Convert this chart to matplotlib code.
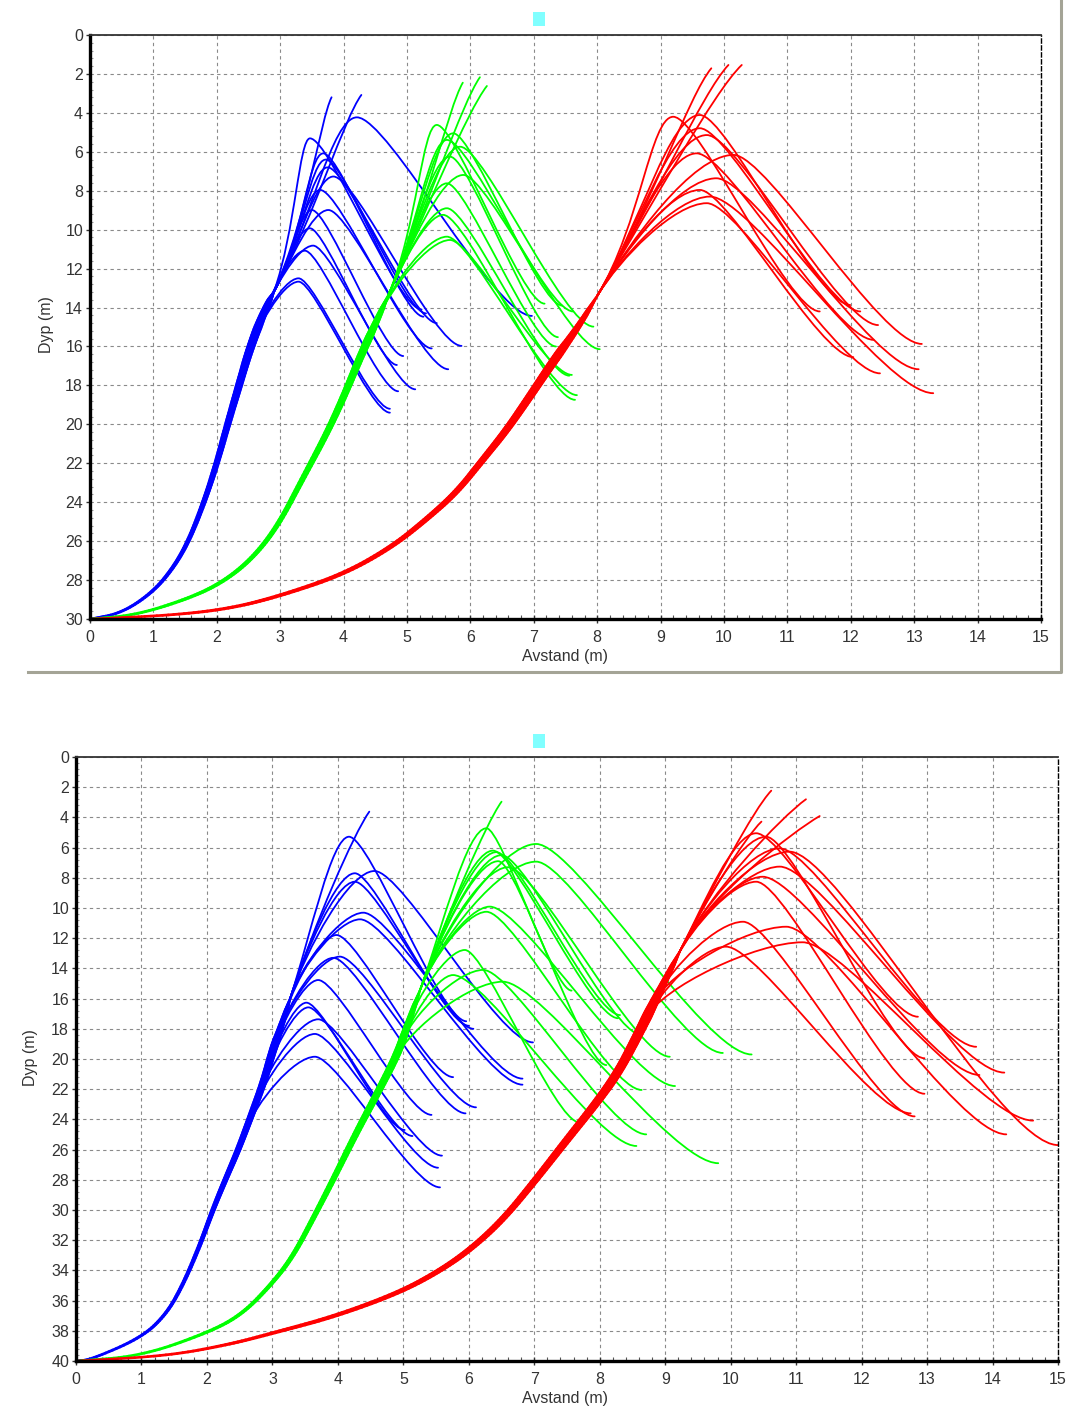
import numpy as np
import matplotlib
matplotlib.use('Agg')
import matplotlib.pyplot as plt
from matplotlib.path import Path
from matplotlib.patches import PathPatch, Rectangle
from matplotlib.collections import LineCollection
from matplotlib.lines import Line2D
from matplotlib.ticker import MultipleLocator

plt.rcParams['font.family'] = ['Liberation Sans', 'DejaVu Sans']

# ---- upper chart (depth 0-30 m) ----
top_blue_trunk = [(0, 30), (0.5, 29.7), (1.0, 28.6), (1.33, 27.3), (1.57, 25.9), (1.81, 23.9),
                  (2.0, 22.0), (2.17, 20.0), (2.35, 18.0), (2.53, 16.0), (2.77, 14.0), (2.9, 13.2)]
top_blue_tips = [(3.81, 3.2), (4.28, 3.08)]
top_blue_peaks = [(3.47, 5.31), (3.68, 6.08), (3.72, 6.4), (3.75, 6.8), (3.84, 7.27), (3.63, 7.96),
                  (3.50, 8.99), (3.76, 8.99), (3.47, 9.93), (3.52, 10.82), (3.39, 11.08),
                  (3.29, 12.5), (3.29, 12.67), (4.21, 4.23)]
top_blue_ends = [(5.23, 14.1), (5.26, 14.47), (5.3, 14.3), (5.47, 14.8), (5.86, 15.97), (5.39, 16.1),
                 (4.94, 16.49), (5.65, 17.17), (4.84, 16.95), (5.13, 18.2), (4.86, 18.3),
                 (4.73, 19.2), (4.73, 19.4), (6.97, 14.43)]

top_green_trunk = [(0, 30), (0.72, 29.8), (1.51, 29.0), (2.05, 28.2), (2.53, 27.0), (2.95, 25.3),
                   (3.37, 22.7), (3.73, 20.5), (4.0, 18.6), (4.28, 16.4), (4.52, 14.7), (4.7, 13.4)]
top_green_tips = [(5.88, 2.45), (6.15, 2.17), (6.26, 2.62)]
top_green_peaks = [(5.47, 4.62), (5.73, 5.05), (5.63, 5.39), (5.84, 5.74), (5.68, 6.25), (5.89, 7.19),
                   (5.63, 7.62), (5.63, 8.9), (5.57, 9.24), (5.63, 10.36), (5.68, 10.53)]
top_green_ends = [(7.17, 13.8), (7.45, 13.9), (7.62, 14.2), (7.94, 14.98), (7.38, 15.52), (8.04, 16.14),
                  (7.35, 16.0), (7.56, 17.5), (7.65, 18.74), (7.68, 18.5), (7.6, 17.46)]

top_red_trunk = [(0, 30), (1.33, 29.8), (2.23, 29.45), (3.01, 28.8), (4.0, 27.7), (4.76, 26.3),
                 (5.3, 24.9), (5.78, 23.5), (6.2, 21.8), (6.57, 20.3), (6.93, 18.6), (7.3, 16.8),
                 (7.7, 15.0), (8.0, 13.4)]
top_red_tips = [(9.8, 1.71), (10.07, 1.54), (10.28, 1.54)]
top_red_peaks = [(9.2, 4.2), (9.62, 4.11), (9.62, 4.79), (9.73, 5.14), (9.57, 6.08), (10.15, 6.16),
                 (9.88, 7.36), (9.62, 7.96), (9.78, 8.3), (9.73, 8.64)]
top_red_ends = [(11.51, 14.2), (11.99, 13.87), (12.15, 14.2), (12.43, 14.9), (12.36, 15.66),
                (13.12, 15.87), (13.07, 17.17), (12.04, 16.55), (13.3, 18.4), (12.46, 17.38)]

# ---- lower chart (depth 0-40 m) ----
bot_blue_trunk = [(0, 40), (0.23, 39.9), (1.0, 38.45), (1.38, 36.9), (1.64, 34.9), (1.90, 32.25),
                  (2.09, 30.0), (2.28, 28.0), (2.48, 26.0), (2.67, 23.8), (2.86, 21.6), (3.0, 19.5),
                  (3.15, 17.6), (3.27, 16.0)]
bot_blue_tips = [(4.48, 3.62)]
bot_blue_peaks = [(4.17, 5.28), (4.26, 7.70), (4.26, 8.26), (4.56, 7.55), (4.39, 10.31), (4.34, 10.75),
                  (3.98, 11.79), (4.03, 13.22), (3.93, 13.3), (3.70, 14.77), (3.52, 16.27),
                  (3.55, 16.58), (3.70, 17.37), (3.65, 18.34), (3.65, 19.85)]
bot_blue_ends = [(5.96, 17.5), (6.0, 17.8), (6.07, 18.0), (6.98, 18.9), (6.82, 21.3), (6.82, 21.7),
                 (5.76, 21.2), (6.11, 23.2), (5.95, 23.6), (5.43, 23.7), (5.02, 24.7), (5.14, 25.1),
                 (5.59, 26.4), (5.53, 27.2), (5.56, 28.5)]

bot_green_trunk = [(0, 40), (1.0, 39.67), (2.03, 38.1), (2.54, 36.9), (2.99, 34.9), (3.31, 33.1),
                   (3.63, 30.5), (3.95, 27.8), (4.28, 24.9), (4.60, 22.3), (4.92, 19.6), (5.1, 17.3),
                   (5.25, 15.5)]
bot_green_tips = [(6.50, 2.96)]
bot_green_peaks = [(6.27, 4.72), (6.37, 6.2), (6.42, 6.3), (6.50, 6.5), (6.45, 6.9), (6.6, 7.3),
                   (7.03, 5.76), (7.03, 6.93), (6.32, 9.91), (6.27, 10.25), (5.94, 12.78),
                   (5.76, 14.44), (6.22, 14.1), (6.52, 14.88)]
bot_green_ends = [(7.57, 15.47), (8.28, 17.3), (8.31, 17.09), (8.64, 18.41), (8.10, 20.4), (9.07, 19.85),
                  (10.32, 19.7), (9.88, 19.6), (9.15, 21.79), (8.64, 22.05), (7.69, 24.2),
                  (8.56, 25.76), (8.71, 24.99), (9.81, 26.9)]

bot_red_trunk = [(0, 40), (1.38, 39.67), (2.35, 38.9), (3.05, 38.1), (3.95, 37.05), (4.92, 35.5),
                 (5.53, 34.1), (6.03, 32.6), (6.53, 30.6), (7.04, 27.9), (7.49, 25.4), (7.95, 22.9),
                 (8.28, 20.9), (8.56, 18.6), (8.8, 16.5), (9.02, 14.6), (9.22, 12.9)]
bot_red_tips = [(10.62, 2.23), (11.15, 2.8), (11.36, 3.91), (10.47, 4.28)]
bot_red_peaks = [(10.39, 5.05), (10.54, 5.28), (10.75, 6.05), (10.90, 6.27), (10.75, 7.26),
                 (10.49, 7.93), (10.39, 8.26), (10.19, 10.91), (9.93, 12.56), (10.85, 11.24),
                 (11.10, 12.27)]
bot_red_ends = [(12.86, 17.2), (12.96, 19.95), (13.75, 19.19), (15.0, 25.7), (14.18, 20.9),
                (13.80, 21.06), (12.96, 22.3), (12.81, 23.8), (12.75, 23.6), (14.21, 24.99),
                (14.62, 24.08)]

BLUE, GREEN, RED = '#0000ff', '#00ff00', '#ff0000'
LW = 1.3


def smooth_trunk(points):
    # quadratic pieces through the midpoints, drawn by matplotlib's own Bezier code
    p = [np.array(q, dtype=float) for q in points]
    verts = [p[0], (p[0] + p[1]) / 2]
    codes = [Path.MOVETO, Path.LINETO]
    for i in range(1, len(p) - 1):
        verts += [p[i], (p[i] + p[i + 1]) / 2]
        codes += [Path.CURVE3, Path.CURVE3]
    verts.append(p[-1])
    codes.append(Path.LINETO)
    path = Path(verts, codes)
    t = np.linspace(0, 1, 14)
    pieces = [seg(t) for seg, _ in path.iter_bezier()]
    return np.vstack(pieces)


def draw_group(ax, trunk, tips, peaks, ends, color, rise, w_top):
    tx = np.array([p[0] for p in trunk])
    ty = np.array([p[1] for p in trunk])

    # the bundle of nearly identical rising paths, drawn as one widening stroke
    line = smooth_trunk(trunk)
    segs = np.stack([line[:-1], line[1:]], axis=1)
    s = np.linspace(0, 1, len(segs))
    widths = 1.4 + (w_top - 1.4) * np.minimum(s / 0.85, 1) ** 1.3
    taper = s > 0.85
    widths[taper] = w_top - (w_top - LW * 1.3) * (s[taper] - 0.85) / 0.15
    ax.add_collection(LineCollection(segs, colors=color, linewidths=widths, capstyle='round'))
    top = ty[-1]

    def branch(y_target):
        yb = max(top, y_target)
        xb = np.interp(yb, ty[::-1], tx[::-1])
        k = int(np.searchsorted(-ty, -yb)) - 1
        k = min(max(k, 0), len(ty) - 2)
        dxdy = (tx[k + 1] - tx[k]) / (ty[k] - ty[k + 1])
        return xb, yb, dxdy

    def rise_part(px, py):
        xb, yb, dxdy = branch(py + rise)
        h = yb - py
        c1x = min(xb + dxdy * 0.4 * h, xb + 0.6 * (px - xb))
        return (xb, yb), (c1x, yb - 0.4 * h)

    for (ex, ey) in tips:
        b, c1 = rise_part(ex, ey)
        c2 = (ex - 0.2 * (ex - b[0]), ey + 0.12 * (b[1] - ey))
        verts = [b, c1, c2, (ex, ey)]
        codes = [Path.MOVETO, Path.CURVE4, Path.CURVE4, Path.CURVE4]
        ax.add_patch(PathPatch(Path(verts, codes), fill=False, edgecolor=color,
                               lw=LW, capstyle='round'))

    for (px, py), (ex, ey) in zip(peaks, ends):
        b, c1 = rise_part(px, py)
        c2 = (px - 0.3 * (px - b[0]), py)
        dx = ex - px
        c3 = (px + 0.18 * dx, py)
        c4 = (ex - 0.22 * dx, ey)
        verts = [b, c1, c2, (px, py), c3, c4, (ex, ey)]
        codes = [Path.MOVETO] + [Path.CURVE4] * 6
        ax.add_patch(PathPatch(Path(verts, codes), fill=False, edgecolor=color,
                               lw=LW, capstyle='round', joinstyle='round'))


def style_axes(ax, ymax):
    ax.set_xlim(0, 15)
    ax.set_ylim(ymax, 0)
    ax.xaxis.set_major_locator(MultipleLocator(1))
    ax.xaxis.set_minor_locator(MultipleLocator(0.2))
    ax.yaxis.set_major_locator(MultipleLocator(2))
    ax.yaxis.set_minor_locator(MultipleLocator(0.4))
    ax.grid(True, which='major', linestyle=(0, (3, 3)), color='#8a8a8a', lw=0.8)
    ax.set_axisbelow(True)
    ax.tick_params(axis='x', which='major', direction='inout', length=6, width=1, color='#333333',
                   labelsize=11.5, labelcolor='#333333', pad=5)
    ax.tick_params(axis='x', which='minor', direction='in', length=3, width=0.8, color='#555555')
    ax.tick_params(axis='y', which='major', direction='out', length=3, width=1, color='#333333',
                   labelsize=11.5, labelcolor='#333333', pad=2)
    ax.tick_params(axis='y', which='minor', direction='in', length=2.5, width=0.8, color='#999999')
    for side in ('left', 'bottom'):
        ax.spines[side].set_linewidth(2.4)
        ax.spines[side].set_color('black')
    ax.spines['top'].set_linewidth(1.3)
    ax.spines['top'].set_color('#333333')
    ax.spines['right'].set_linewidth(1.0)
    ax.spines['right'].set_color('black')
    ax.spines['right'].set_linestyle((0, (3, 2)))


W, H = 1073, 1414
fig = plt.figure(figsize=(W / 100, H / 100), dpi=100)


def fx(px):
    return px / W


def fy(py):
    return 1 - py / H


ax1 = fig.add_axes([fx(90), fy(619), fx(1041) - fx(90), fy(35) - fy(619)])
ax2 = fig.add_axes([fx(76), fy(1361), fx(1058) - fx(76), fy(757) - fy(1361)])

style_axes(ax1, 30)
style_axes(ax2, 40)

draw_group(ax1, top_blue_trunk, top_blue_tips, top_blue_peaks, top_blue_ends, BLUE, 4.0, 6.5)
draw_group(ax1, top_green_trunk, top_green_tips, top_green_peaks, top_green_ends, GREEN, 4.0, 6.0)
draw_group(ax1, top_red_trunk, top_red_tips, top_red_peaks, top_red_ends, RED, 4.0, 6.5)

draw_group(ax2, bot_blue_trunk, bot_blue_tips, bot_blue_peaks, bot_blue_ends, BLUE, 5.0, 6.0)
draw_group(ax2, bot_green_trunk, bot_green_tips, bot_green_peaks, bot_green_ends, GREEN, 5.0, 6.0)
draw_group(ax2, bot_red_trunk, bot_red_tips, bot_red_peaks, bot_red_ends, RED, 5.0, 7.5)

# axis titles
fig.text(fx(565), fy(657), 'Avstand (m)', ha='center', va='center', fontsize=11.5, color='#333333')
fig.text(fx(47), fy(325), 'Dyp (m)', ha='center', va='center', rotation=90, fontsize=11.5,
         color='#333333')
fig.text(fx(565), fy(1398), 'Avstand (m)', ha='center', va='center', fontsize=11.5, color='#333333')
fig.text(fx(30), fy(1058), 'Dyp (m)', ha='center', va='center', rotation=90, fontsize=11.5,
         color='#333333')

# small cyan legend markers above each chart
fig.add_artist(Rectangle((fx(533), fy(26)), 12 / W, 14 / H, transform=fig.transFigure,
                         facecolor='#80ffff', edgecolor='none'))
fig.add_artist(Rectangle((fx(533), fy(748)), 12 / W, 14 / H, transform=fig.transFigure,
                         facecolor='#80ffff', edgecolor='none'))

# panel frame of the upper chart
fig.add_artist(Line2D([fx(28), fx(1061), fx(1061)], [fy(672), fy(672), fy(0)],
                      transform=fig.transFigure, color='#a4a496', lw=2.2))

fig.savefig('out.png', dpi=100)
